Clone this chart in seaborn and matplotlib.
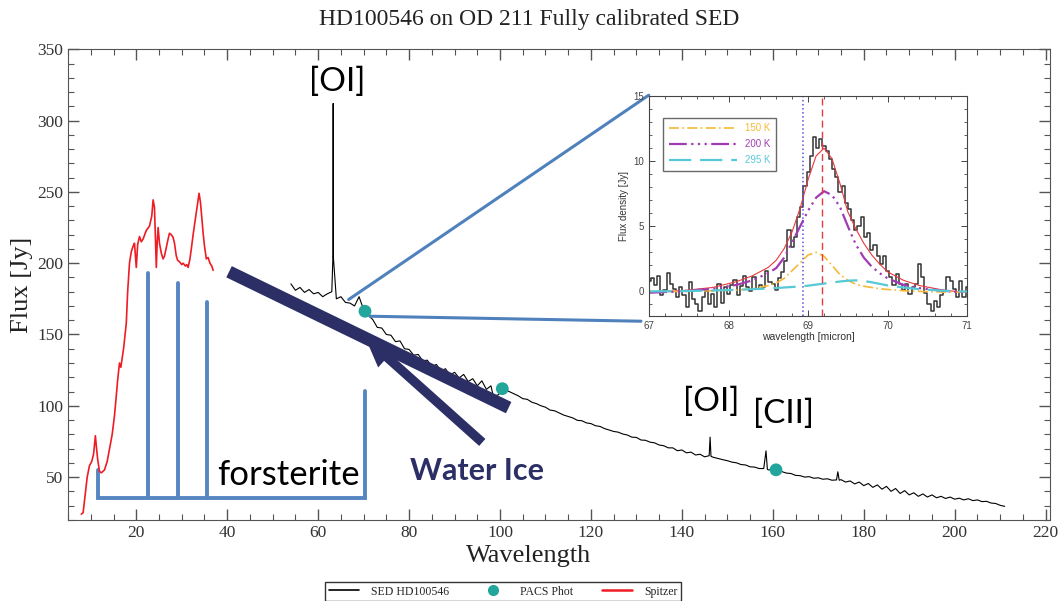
import seaborn as sns
import matplotlib.pyplot as plt
from matplotlib.lines import Line2D
from matplotlib.ticker import MultipleLocator

# ---- data ----
# PACS SED of HD100546 (wavelength in micron, flux in Jy)
sed_wave = [54, 55, 56, 57, 58, 59, 60, 61, 62, 63, 63.25, 63.3, 63.35, 64, 65, 66, 67, 68, 69, 69.6,
            70, 71, 72, 73, 74, 75, 76, 77, 78, 79, 80, 81, 82, 83, 84, 85, 86, 87, 88, 89,
            90, 91, 92, 93, 94, 95, 96, 97, 98, 98.5, 99.5, 101, 102, 103, 104, 105, 106, 107, 108, 109,
            110, 111, 112, 113, 114, 115, 116, 117, 118, 119, 120, 121, 122, 123, 124, 125, 126, 127, 128, 129,
            130, 131, 132, 133, 134, 135, 136, 137, 138, 139, 140, 141, 142, 143, 144, 145, 146, 146.2, 146.4, 147,
            148, 149, 150, 151, 152, 153, 154, 155, 156, 157, 158, 158.5, 158.8, 159, 160, 161, 162, 163, 164, 165,
            166, 167, 168, 169, 170, 171, 172, 173, 174, 174.3, 174.6, 175, 176, 177, 178, 179, 180, 181, 182, 183,
            184, 185, 186, 187, 188, 189, 190, 191, 192, 193, 194, 195, 196, 197, 198, 199, 200, 201, 202, 203,
            204, 205, 206, 207, 208, 209, 210, 211]
sed_flux = [185.5, 181.0, 183.0, 179.5, 181.5, 178.5, 179.5, 176.5, 178.5, 180.0, 205.0, 312.0, 204.0, 175.0, 176.5, 172.5, 172.0, 170.0, 176.5, 171.0,
            168.0, 163.5, 160.5, 155.0, 154.5, 150.0, 149.5, 145.0, 145.5, 140.0, 139.5, 135.5, 136.0, 131.5, 132.0, 127.5, 129.0, 124.5, 126.0, 121.5,
            123.5, 119.5, 122.0, 117.0, 119.0, 114.0, 117.5, 111.5, 114.0, 107.0, 107.5, 111.5, 110.0, 108.5, 107.0, 105.0, 104.5, 102.5, 101.5, 100.0,
            99.0, 97.0, 96.5, 95.0, 93.5, 92.5, 91.5, 89.8, 89.5, 88.0, 87.5, 86.0, 85.5, 84.0, 83.0, 82.0, 81.5, 80.2, 79.5, 78.0,
            77.8, 76.0, 75.8, 74.5, 74.0, 72.5, 72.0, 70.5, 70.5, 68.5, 69.0, 67.0, 67.5, 65.5, 66.0, 64.2, 65.0, 78.0, 64.5, 63.8,
            63.0, 62.2, 61.5, 60.5, 60.0, 58.8, 58.5, 57.2, 57.0, 56.0, 56.0, 68.4, 55.5, 55.0, 55.5, 54.5, 53.8, 52.8, 52.5, 51.2,
            51.0, 50.0, 50.3, 49.2, 49.5, 48.5, 48.8, 47.8, 48.0, 53.7, 47.8, 48.2, 46.5, 47.3, 45.2, 46.5, 44.0, 45.5, 42.8, 44.5,
            41.5, 43.5, 40.0, 42.0, 38.5, 40.5, 37.5, 39.0, 36.5, 38.2, 36.0, 37.5, 35.5, 36.5, 35.0, 36.0, 34.5, 35.2, 34.0, 34.8,
            33.5, 34.0, 32.8, 33.0, 31.8, 31.5, 30.2, 29.5]

# Spitzer spectrum
sp_wave = [7.9, 8.3, 8.7, 9.2, 9.7, 10.2, 10.6, 11.0, 11.2, 11.5, 11.9, 12.3, 13.0, 13.6, 14.1,
           14.7, 15.2, 15.6, 15.9, 16.3, 16.6, 17.2, 17.8, 18.1, 18.5, 18.9, 19.3, 19.6, 20.0, 20.3,
           20.7, 21.1, 21.5, 22.2, 22.9, 23.4, 23.7, 24.0, 24.2, 24.4, 24.6, 24.8, 25.1, 25.5, 25.9,
           26.2, 26.6, 27.0, 27.3, 27.7, 28.1, 28.4, 28.8, 29.1, 29.5, 30.0, 30.3, 30.8, 31.1, 31.4,
           31.8, 32.1, 32.5, 32.9, 33.4, 33.8, 34.1, 34.3, 34.7, 35.0, 35.4, 35.8, 36.2, 36.6, 36.9]
sp_flux = [24, 25, 36, 50, 58, 61, 66, 79, 72, 62.6, 54, 53, 55, 61, 69.6,
           80, 93, 107, 118, 130, 127, 140, 158, 180, 200, 208, 212, 214, 197, 213,
           218.7, 215, 217, 223, 226, 233, 244.4, 239, 218, 197, 215, 225, 214, 207, 203,
           205, 211, 217, 221, 220, 218, 214, 205, 202, 201, 199, 200, 198, 199, 197,
           203, 210, 220, 229, 240, 249, 243, 236, 221, 212, 203, 204, 200, 198, 195]

# PACS photometry
phot_wave = [70.3, 100.5, 160.7]
phot_flux = [166.3, 112.0, 55.1]

# forsterite features (wavelength, top of marker)
fo_wave = [22.6, 29.1, 35.5]
fo_top = [193, 186, 172.6]

# inset: 69 micron forsterite band
ins_wave = [67.00, 67.04, 67.08, 67.12, 67.16, 67.20, 67.24, 67.28, 67.32, 67.36,
            67.40, 67.44, 67.48, 67.52, 67.56, 67.60, 67.64, 67.68, 67.72, 67.76,
            67.80, 67.84, 67.88, 67.92, 67.96, 68.00, 68.04, 68.08, 68.12, 68.16,
            68.20, 68.24, 68.28, 68.32, 68.36, 68.40, 68.44, 68.48, 68.52, 68.56,
            68.60, 68.64, 68.68, 68.72, 68.76, 68.80, 68.84, 68.88, 68.92, 68.96,
            69.00, 69.04, 69.08, 69.12, 69.16, 69.20, 69.24, 69.28, 69.32, 69.36,
            69.40, 69.44, 69.48, 69.52, 69.56, 69.60, 69.64, 69.68, 69.72, 69.76,
            69.80, 69.84, 69.88, 69.92, 69.96, 70.00, 70.04, 70.08, 70.12, 70.16,
            70.20, 70.24, 70.28, 70.32, 70.36, 70.40, 70.44, 70.48, 70.52, 70.56,
            70.60, 70.64, 70.68, 70.72, 70.76, 70.80, 70.84, 70.88, 70.92, 70.96, 71.00]
ins_flux = [0.8, 1.0, 0.5, 1.2, -0.3, 0.1, 1.4, 0.6, 0.2, -0.4,
            0.3, -0.3, -1.2, 0.7, -0.6, -1.0, -1.5, -0.4, 0.0, -1.0,
            -0.2, -1.2, 0.6, -0.9, 0.3, -0.2, 0.5, 0.9, -0.3, 0.4,
            1.2, 0.3, 0.0, 1.1, 0.2, 0.5, 0.3, 1.6, 0.7, 0.6,
            0.1, 1.0, 1.5, 2.3, 4.7, 3.4, 4.2, 5.7, 6.5, 8.1,
            9.2, 10.4, 11.9, 11.0, 11.7, 11.2, 10.8, 10.2, 9.4, 8.8,
            7.6, 8.1, 6.8, 6.3, 5.5, 4.7, 5.0, 5.7, 4.2, 4.5,
            3.2, 3.6, 2.7, 2.1, 2.7, 1.6, 1.1, 0.5, 1.3, 0.6,
            0.1, 0.6, -0.2, 0.3, 0.6, 2.1, 1.1, -0.1, -1.0, -1.5,
            -0.7, -1.2, -0.3, 0.0, 1.1, 0.8, 0.2, -0.4, 0.8, -0.4, 0.3]

# model components on a coarse grid
mod_wave = [67.0, 67.4, 67.8, 68.1, 68.3, 68.5, 68.6, 68.7, 68.8, 68.9, 69.0, 69.1, 69.2,
            69.3, 69.4, 69.5, 69.6, 69.7, 69.8, 69.9, 70.0, 70.2, 70.4, 70.7, 71.0]
mod_total = [-0.1, 0.05, 0.3, 0.75, 1.2, 1.85, 2.4, 3.3, 4.6, 6.4, 8.6, 10.4, 11.0,
             10.2, 8.3, 6.1, 4.8, 3.7, 2.8, 2.1, 1.5, 0.85, 0.45, 0.1, -0.1]
mod_150 = [0.0, 0.0, 0.05, 0.1, 0.2, 0.45, 0.65, 1.0, 1.6, 2.2, 2.8, 3.0, 2.7,
           2.0, 1.3, 0.85, 0.55, 0.4, 0.3, 0.2, 0.15, 0.05, 0.0, -0.05, -0.05]
mod_200 = [-0.1, 0.0, 0.2, 0.5, 0.85, 1.4, 1.8, 2.6, 3.8, 5.0, 6.2, 7.2, 7.7,
           7.4, 6.5, 5.0, 3.6, 2.6, 1.9, 1.4, 1.0, 0.5, 0.25, 0.05, -0.1]
mod_295 = [0.0, 0.02, 0.07, 0.12, 0.17, 0.22, 0.26, 0.3, 0.34, 0.38, 0.44, 0.52, 0.6,
           0.68, 0.76, 0.82, 0.85, 0.8, 0.7, 0.58, 0.46, 0.3, 0.17, 0.05, -0.02]

# ---- annotation geometry (data coords of main axes) ----
ice_bar_x = [40.4, 101.9]
ice_bar_y = [194, 98.7]
zoom_a_x, zoom_a_y = [66.7, 132.7], [174.5, 317.8]
zoom_b_x, zoom_b_y = [71.4, 131.0], [162.8, 159.3]

sns.set_style("ticks")
plt.rcParams['font.family'] = ['Liberation Serif', 'DejaVu Serif']

BLUE = '#5686c2'
NAVY = '#2b2f66'
TEAL = '#22a59b'

fig = plt.figure(figsize=(10.64, 6.01), dpi=100)
ax = fig.add_axes([0.064, 0.135, 0.923, 0.783])

sns.lineplot(x=sed_wave, y=sed_flux, ax=ax, color='black', lw=0.8,
             estimator=None, sort=False, zorder=3)
sns.lineplot(x=sp_wave, y=sp_flux, ax=ax, color='#ee1c24', lw=1.2,
             estimator=None, sort=False, zorder=3)

# forsterite bracket
ax.plot([11.5, 11.5, 70.4, 70.4], [54.9, 35.3, 35.3, 110.4], color=BLUE, lw=2.8,
        solid_joinstyle='miter', zorder=2)
for w, t in zip(fo_wave, fo_top):
    ax.plot([w, w], [35.3, t], color=BLUE, lw=2.8, zorder=2)

# zoom lines towards the inset
ax.plot(zoom_a_x, zoom_a_y, color='#4f81bd', lw=2.2, zorder=4)
ax.plot(zoom_b_x, zoom_b_y, color='#4f81bd', lw=2.2, zorder=4)

# water ice bar and arrow
ax.plot(ice_bar_x, ice_bar_y, color=NAVY, lw=9, solid_capstyle='butt', zorder=4)
ax.annotate('', xy=(70.4, 147.6), xytext=(96.1, 74.3),
            arrowprops=dict(arrowstyle='simple,head_length=1.4,head_width=1.3,tail_width=0.45',
                            mutation_scale=15, color=NAVY, lw=0, shrinkA=0, shrinkB=0),
            zorder=4)

sns.scatterplot(x=phot_wave, y=phot_flux, ax=ax, color=TEAL, s=85,
                edgecolor='none', zorder=5)

# labels on the plot
lab = dict(family=['Lato', 'DejaVu Sans'], color='black', ha='center', va='center')
ax.text(64.2, 327, '[OI]', fontsize=24, **lab)
ax.text(146.4, 103, '[OI]', fontsize=24, **lab)
ax.text(162.3, 94, '[CII]', fontsize=24, **lab)
ax.text(53.4, 51.4, 'forsterite', fontsize=25, **lab)
ax.text(95.0, 54.2, 'Water Ice', fontsize=22, fontweight='bold',
        family=['Lato', 'DejaVu Sans'], color=NAVY, ha='center', va='center')

ax.set_xlim(5, 221)
ax.set_ylim(20, 350)
ax.xaxis.set_major_locator(MultipleLocator(20))
ax.xaxis.set_minor_locator(MultipleLocator(5))
ax.yaxis.set_major_locator(MultipleLocator(50))
ax.yaxis.set_minor_locator(MultipleLocator(10))
ax.set_yticks([50, 100, 150, 200, 250, 300, 350])
ax.tick_params(which='both', direction='in', top=True, right=True, colors='#555555',
               labelcolor='#333333', labelsize=12.5)
ax.tick_params(which='major', length=8, width=1)
ax.tick_params(which='minor', length=4.5, width=0.8)
for sp in ax.spines.values():
    sp.set_color('#555555')
ax.set_xlabel('Wavelength', fontsize=19, color='#222222')
ax.set_ylabel('Flux [Jy]', fontsize=19, color='#222222')
ax.xaxis.set_label_coords(0.469, -0.053)
ax.yaxis.set_label_coords(-0.036, 0.5)

fig.text(0.497, 0.968, 'HD100546 on OD 211 Fully calibrated SED', fontsize=17,
         ha='center', va='center', color='#222222')

handles = [Line2D([], [], color='black', lw=1.2),
           Line2D([], [], color=TEAL, marker='o', ls='none', markersize=7),
           Line2D([], [], color='#ee1c24', lw=1.8)]
fig.legend(handles, ['SED HD100546', 'PACS Phot', 'Spitzer'], ncol=3,
           loc='upper left', bbox_to_anchor=(0.3055, 0.0316),
           borderaxespad=0, fontsize=8.5, frameon=True, fancybox=False, edgecolor='black',
           handlelength=2.6, handletextpad=1.0, columnspacing=2.4, borderpad=0.3)

# ---- inset ----
ins = fig.add_axes([0.610, 0.474, 0.299, 0.366])
ins.set_facecolor('white')
sns.lineplot(x=ins_wave, y=ins_flux, ax=ins, color='#333333', lw=1.1,
             drawstyle='steps-mid', estimator=None, sort=False)
sns.lineplot(x=mod_wave, y=mod_total, ax=ins, color='#e8393d', lw=0.8,
             estimator=None, sort=False)
sns.lineplot(x=mod_wave, y=mod_150, ax=ins, color='#f6b935', lw=1.2,
             ls=(0, (6, 2, 1, 2)), estimator=None, sort=False, label='150 K')
sns.lineplot(x=mod_wave, y=mod_200, ax=ins, color='#a23bb3', lw=1.6,
             ls=(0, (8, 2, 1, 2, 1, 2, 1, 2)), estimator=None, sort=False, label='200 K')
sns.lineplot(x=mod_wave, y=mod_295, ax=ins, color='#55c9d6', lw=1.6,
             ls=(0, (10, 4)), estimator=None, sort=False, label='295 K')
ins.axvline(68.94, color='#5555dd', ls=':', lw=1.1)
ins.axvline(69.18, color='#e8393d', ls=(0, (5, 3)), lw=1.0)
ins.set_xlim(67, 71)
ins.set_ylim(-1.9, 15)
ins.xaxis.set_major_locator(MultipleLocator(1))
ins.xaxis.set_minor_locator(MultipleLocator(0.2))
ins.yaxis.set_major_locator(MultipleLocator(5))
ins.yaxis.set_minor_locator(MultipleLocator(1))
ins.tick_params(which='both', direction='in', top=True, right=True,
                labelsize=7, colors='#444444', labelfontfamily='Liberation Sans')
ins.tick_params(which='major', length=4, width=0.7)
ins.tick_params(which='minor', length=2, width=0.6)
for sp in ins.spines.values():
    sp.set_color('#444444')
ins.set_xlabel('wavelength [micron]', fontsize=7.5, family='Liberation Sans',
               color='#333333', labelpad=1)
ins.set_ylabel('Flux density [Jy]', fontsize=7, family='Liberation Sans',
               color='#333333', labelpad=3)
ins.legend(loc='upper left', bbox_to_anchor=(0.03, 0.925),
           prop={'family': 'Liberation Sans', 'size': 7}, frameon=True,
           fancybox=False, edgecolor='#444444', handlelength=7,
           labelcolor='linecolor', borderpad=0.6, labelspacing=0.6)

fig.savefig('out.png', dpi=100)
